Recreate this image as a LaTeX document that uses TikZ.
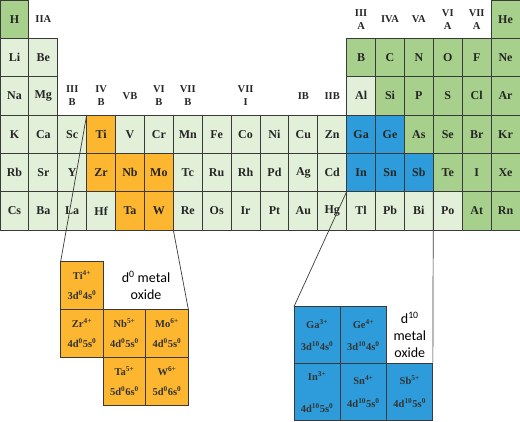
\documentclass[tikz,border=0pt]{standalone}
\usepackage{fontspec}
\setmainfont{Liberation Serif}
\newfontfamily\oxfont{Carlito}
\usetikzlibrary{positioning}
\definecolor{pale}{HTML}{E2EFD9}
\definecolor{leaf}{HTML}{A8D08D}
\definecolor{amber}{HTML}{FDB62F}
\definecolor{sky}{HTML}{2E9CDA}
\definecolor{edge}{HTML}{3A3A3A}

\begin{document}
\begin{tikzpicture}[x=1pt,y=-1pt,
  cell/.style={draw=edge,line width=0.8pt,minimum width=28.89pt,minimum height=38.33pt,inner sep=0pt,outer sep=0pt,text=black!85,font=\bfseries\fontsize{12}{13}\selectfont},
  grp/.style={align=center,inner sep=0pt,text=black!85,font=\bfseries\fontsize{10.5}{13}\selectfont},
  obox/.style={draw=edge,fill=amber,line width=0.8pt,minimum width=42.5pt,minimum height=48pt,inner sep=0pt,outer sep=0pt,align=center,text=black!80,font=\bfseries\fontsize{10.5}{11}\selectfont},
  bbox/.style={obox,fill=sky,minimum width=46.3pt,minimum height=56.7pt},
  oxtext/.style={align=center,inner sep=0pt,font=\oxfont\fontsize{14}{17}\selectfont},
  zoomline/.style={draw=edge,line width=0.7pt}]
\useasboundingbox (0,0) rectangle (520,422);

% periodic table
\foreach \el/\c/\r/\col in {H/1/1/leaf, He/18/1/leaf,
    Li/1/2/pale, Be/2/2/pale, B/13/2/leaf, C/14/2/leaf, N/15/2/leaf, O/16/2/leaf, F/17/2/leaf, Ne/18/2/leaf,
    Na/1/3/pale, Mg/2/3/pale, Al/13/3/pale, Si/14/3/leaf, P/15/3/leaf, S/16/3/leaf, Cl/17/3/leaf, Ar/18/3/leaf,
    K/1/4/pale, Ca/2/4/pale, Sc/3/4/pale, Ti/4/4/amber, V/5/4/pale, Cr/6/4/pale, Mn/7/4/pale, Fe/8/4/pale, Co/9/4/pale,
    Ni/10/4/pale, Cu/11/4/pale, Zn/12/4/pale, Ga/13/4/sky, Ge/14/4/sky, As/15/4/leaf, Se/16/4/leaf, Br/17/4/leaf, Kr/18/4/leaf,
    Rb/1/5/pale, Sr/2/5/pale, Y/3/5/pale, Zr/4/5/amber, Nb/5/5/amber, Mo/6/5/amber, Tc/7/5/pale, Ru/8/5/pale, Rh/9/5/pale,
    Pd/10/5/pale, Ag/11/5/pale, Cd/12/5/pale, In/13/5/sky, Sn/14/5/sky, Sb/15/5/sky, Te/16/5/leaf, I/17/5/leaf, Xe/18/5/leaf,
    Cs/1/6/pale, Ba/2/6/pale, La/3/6/pale, Hf/4/6/pale, Ta/5/6/amber, W/6/6/amber, Re/7/6/pale, Os/8/6/pale, Ir/9/6/pale,
    Pt/10/6/pale, Au/11/6/pale, Hg/12/6/pale, Tl/13/6/pale, Pb/14/6/pale, Bi/15/6/pale, Po/16/6/pale, At/17/6/leaf, Rn/18/6/leaf}
  \node[cell,fill=\col] (\el) at ({(\c-0.5)*28.889},{(\r-0.5)*38.333}) {\el};

% group labels
\foreach \g/\c/\r/\txt in {g2/2/1/IIA, g3/3/3/III\\B, g4/4/3/IV\\B, g5/5/3/VB, g6/6/3/VI\\B, g7/7/3/VII\\B,
    g8/9/3/VII\\I, g11/11/3/IB, g12/12/3/IIB, g13/13/1/III\\A, g14/14/1/IVA, g15/15/1/VA, g16/16/1/VI\\A, g17/17/1/VII\\A}
  \node[grp] (\g) at ({(\c-0.5)*28.889},{(\r-0.5)*38.333}) {\txt};

% d0 oxides
\node[obox] (ti4) at (82,285) {Ti\textsuperscript{4+}\\[9pt]3d\textsuperscript{0}4s\textsuperscript{0}};
\node[obox,below=0pt of ti4] (zr4) {Zr\textsuperscript{4+}\\[9pt]4d\textsuperscript{0}5s\textsuperscript{0}};
\node[obox,right=0pt of zr4] (nb5) {Nb\textsuperscript{5+}\\[9pt]4d\textsuperscript{0}5s\textsuperscript{0}};
\node[obox,right=0pt of nb5] (mo6) {Mo\textsuperscript{6+}\\[9pt]4d\textsuperscript{0}5s\textsuperscript{0}};
\node[obox,below=0pt of nb5] (ta5) {Ta\textsuperscript{5+}\\[9pt]5d\textsuperscript{0}6s\textsuperscript{0}};
\node[obox,below=0pt of mo6] (w6) {W\textsuperscript{6+}\\[9pt]5d\textsuperscript{0}6s\textsuperscript{0}};
\node[oxtext] (dzero) at (146,285) {d\textsuperscript{0} metal\\oxide};

% d10 oxides
\node[bbox] (ga3) at (317.1,335) {Ga\textsuperscript{3+}\\[11pt]3d\textsuperscript{10}4s\textsuperscript{0}};
\node[bbox,right=0pt of ga3] (ge4) {Ge\textsuperscript{4+}\\[11pt]3d\textsuperscript{10}4s\textsuperscript{0}};
\node[bbox,below=0pt of ga3] (in3) {In\textsuperscript{3+}\\[21pt]4d\textsuperscript{10}5s\textsuperscript{0}};
\node[bbox,right=0pt of in3] (sn4) {Sn\textsuperscript{4+}\\[12pt]4d\textsuperscript{10}5s\textsuperscript{0}};
\node[bbox,right=0pt of sn4] (sb5) {Sb\textsuperscript{5+}\\[12pt]4d\textsuperscript{10}5s\textsuperscript{0}};
\node[oxtext] (dten) at (409.8,335) {d\textsuperscript{10}\\metal\\oxide};

% zoom lines
\draw[zoomline] (Ti.north west) -- (ti4.north west);
\draw[zoomline] (W.south east) -- (mo6.north east);
\draw[zoomline] (In.south west) -- (ga3.north west);
\draw[zoomline] (Sb.south east) -- (sb5.north east);
\end{tikzpicture}
\end{document}
